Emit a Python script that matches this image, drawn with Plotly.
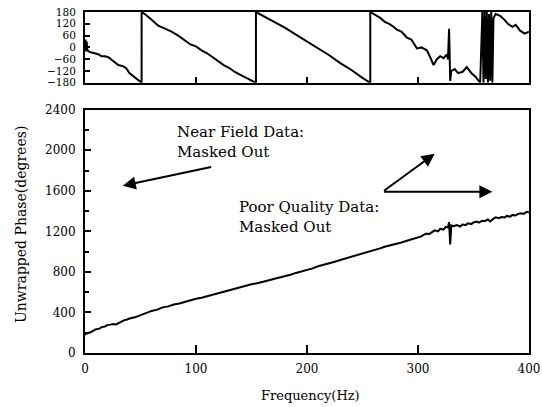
import plotly.graph_objects as go

# ---------------- data ----------------
# Unwrapped phase (bottom panel)
freq_unwrapped = [0, 2, 5, 8, 10, 13, 15, 18, 20, 23, 25, 28, 30, 33, 35, 38, 40, 45, 50, 55, 60, 65,
                  70, 75, 80, 85, 90, 95, 100, 105, 110, 115, 120, 125, 130, 135, 140, 145, 150, 155,
                  160, 165, 170, 175, 180, 185, 190, 195, 200, 205, 210, 215, 220, 225, 230, 235, 240,
                  245, 250, 255, 260, 265, 270, 275, 280, 285, 290, 295, 300, 303, 305, 308, 310, 313,
                  315, 318, 320, 323, 325, 327, 328, 329, 330, 332, 335, 338, 340, 343, 345, 348, 350,
                  353, 355, 358, 360, 363, 365, 368, 370, 373, 375, 378, 380, 383, 385, 388, 390, 393,
                  395, 398, 400]
phase_unwrapped = [180, 195, 205, 220, 235, 240, 255, 262, 275, 280, 285, 282, 295, 310, 322, 330, 340,
                   352, 375, 392, 415, 428, 450, 460, 478, 488, 505, 518, 535, 545, 560, 572, 590, 602,
                   620, 636, 650, 662, 678, 688, 705, 716, 730, 743, 758, 772, 790, 803, 822, 835, 855,
                   868, 885, 900, 918, 933, 952, 966, 985, 998, 1015, 1030, 1048, 1060, 1078, 1090,
                   1108, 1122, 1140, 1150, 1165, 1178, 1172, 1198, 1210, 1200, 1225, 1218, 1245, 1238,
                   1290, 1070, 1258, 1250, 1262, 1248, 1268, 1262, 1280, 1272, 1288, 1296, 1285, 1305,
                   1300, 1318, 1298, 1325, 1338, 1330, 1342, 1336, 1352, 1345, 1362, 1356, 1372, 1378,
                   1372, 1392, 1386]

# Wrapped phase (top panel)
freq_wrapped = [0, 0.5, 1, 1.5, 2, 3, 5, 8, 12, 15, 18, 21, 25, 30, 34, 37, 40, 44, 47, 50, 51,
                51, 55, 60, 66, 72, 78, 84, 90, 95, 100, 105, 110, 115, 120, 125, 130, 135, 140, 145, 150, 154,
                154, 160, 170, 180, 190, 200, 210, 220, 230, 240, 250, 257,
                257, 262, 266, 270, 274, 278, 281, 285, 290, 294, 299, 303, 308, 311, 314, 317, 320, 323,
                326, 327, 328, 329, 330, 333, 336, 340, 344, 348, 352, 356, 358, 359, 360, 361, 362, 363,
                364, 365, 366, 367, 368, 370, 374, 378, 381, 385, 388, 392, 396, 400]
phase_wrapped = [10, 40, -20, 30, -10, -20, -25, -30, -35, -45, -45, -50, -70, -90, -95, -105, -130, -150, -165, -175, -180,
                 180, 165, 140, 110, 95, 80, 60, 35, 15, 5, -15, -30, -50, -70, -90, -105, -125, -140, -155, -170, -180,
                 180, 162, 130, 100, 65, 30, -5, -40, -80, -115, -155, -180,
                 180, 165, 150, 130, 120, 105, 90, 80, 50, 40, -5, 0, -15, -50, -90, -60, -45, -55,
                 -35, -60, 95, -170, -120, -110, -130, -125, -100, -130, -150, -180, 180, -180, 180, -160, 180, -180,
                 170, -170, 180, -180, 150, 170, 160, 140, 120, 105, 115, 85, 70, 80]

top_yticks = [-180, -120, -60, 0, 60, 120, 180]
bottom_yticks = [0, 400, 800, 1200, 1600, 2000, 2400]
bottom_xticks = [0, 100, 200, 300, 400]

FONT = "DejaVu Serif"

fig = go.Figure()
fig.add_trace(go.Scatter(x=freq_wrapped, y=phase_wrapped, mode="lines",
                         line=dict(color="black", width=2), xaxis="x2", yaxis="y2",
                         showlegend=False))
fig.add_trace(go.Scatter(x=freq_unwrapped, y=phase_unwrapped, mode="lines",
                         line=dict(color="black", width=2), xaxis="x", yaxis="y",
                         showlegend=False))

axis_common = dict(showline=True, mirror=True, linecolor="black", linewidth=2, automargin=False,
                   showgrid=False, zeroline=False, ticks="inside", tickcolor="black")

fig.update_layout(
    width=542, height=407,
    margin=dict(l=85, r=13, t=12, b=54),
    paper_bgcolor="white", plot_bgcolor="white",
    font=dict(family=FONT, color="black"),
    xaxis=dict(domain=[0, 1], range=[0, 400], tickvals=bottom_xticks, ticklen=8, tickwidth=2,
               tickfont=dict(size=12), ticklabelstandoff=4, **axis_common),
    yaxis=dict(domain=[0, 0.7135], range=[0, 2400], tickvals=bottom_yticks, ticklen=6, tickwidth=2,
               tickfont=dict(size=12), ticklabelstandoff=5,
               minor=dict(dtick=200, ticklen=4, tickcolor="black", ticks="inside", tickwidth=1.5),
               **axis_common),
    xaxis2=dict(domain=[0, 1], range=[0, 400], tickvals=[100, 200, 300], ticklen=6, tickwidth=2,
                showticklabels=False, anchor="y2", **axis_common),
    yaxis2=dict(domain=[0.7924, 1], range=[-180, 180], tickvals=top_yticks, ticklen=5, tickwidth=2,
                tickfont=dict(size=10.5), ticklabelstandoff=5, anchor="x2", **axis_common),
)

ann_font = dict(family=FONT, size=15, color="black")
annotations = [
    dict(x=81, y=2183, text="Near Field Data:", xref="x", yref="y", showarrow=False,
         xanchor="left", yanchor="middle", font=ann_font),
    dict(x=81, y=1980, text="Masked Out", xref="x", yref="y", showarrow=False,
         xanchor="left", yanchor="middle", font=ann_font),
    dict(x=137, y=1442, text="Poor Quality Data:", xref="x", yref="y", showarrow=False,
         xanchor="left", yanchor="middle", font=ann_font),
    dict(x=137, y=1244, text="Masked Out", xref="x", yref="y", showarrow=False,
         xanchor="left", yanchor="middle", font=ann_font),
    # arrows
    dict(x=34, y=1650, ax=115, ay=1837, xref="x", yref="y", axref="x", ayref="y", text="",
         showarrow=True, arrowhead=2, arrowsize=1.3, arrowwidth=2, arrowcolor="black"),
    dict(x=315, y=1965, ax=268, ay=1590, xref="x", yref="y", axref="x", ayref="y", text="",
         showarrow=True, arrowhead=2, arrowsize=1.3, arrowwidth=2, arrowcolor="black"),
    dict(x=367, y=1590, ax=268, ay=1590, xref="x", yref="y", axref="x", ayref="y", text="",
         showarrow=True, arrowhead=2, arrowsize=1.3, arrowwidth=2, arrowcolor="black"),
    # axis titles
    dict(x=0.507, y=-0.125, xref="paper", yref="paper", text="Frequency(Hz)", showarrow=False,
         xanchor="center", yanchor="middle", font=dict(family=FONT, size=13, color="black")),
    dict(x=-0.143, y=0.377, xref="paper", yref="paper", text="Unwrapped Phase(degrees)", showarrow=False,
         textangle=-90, xanchor="center", yanchor="middle", font=dict(family=FONT, size=14, color="black")),
]
fig.update_layout(annotations=annotations)

fig.write_html("out.html")
